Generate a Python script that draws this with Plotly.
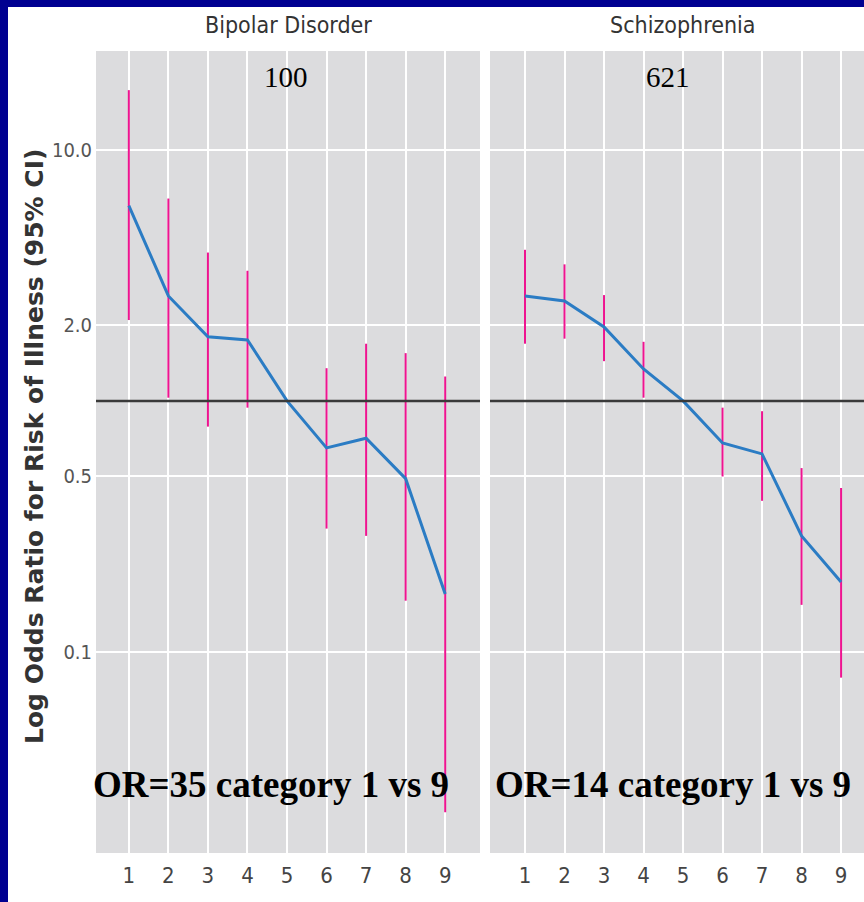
import plotly.graph_objects as go

# Odds ratios by category (1-9), reference category 5 = 1.0
categories = [1, 2, 3, 4, 5, 6, 7, 8, 9]

bipolar_or = [6.0, 2.62, 1.80, 1.75, 1.0, 0.65, 0.71, 0.49, 0.17]
bipolar_lo = [2.1, 1.03, 0.79, 0.94, 1.0, 0.31, 0.29, 0.16, 0.023]
bipolar_hi = [17.3, 6.4, 3.9, 3.3, 1.0, 1.35, 1.69, 1.55, 1.25]

schizo_or = [2.62, 2.50, 1.97, 1.34, 1.0, 0.68, 0.615, 0.29, 0.19]
schizo_lo = [1.69, 1.77, 1.44, 1.03, 1.0, 0.50, 0.40, 0.154, 0.079]
schizo_hi = [4.0, 3.5, 2.64, 1.72, 1.0, 0.94, 0.91, 0.54, 0.45]

panel_titles = ["Bipolar Disorder", "Schizophrenia"]
panel_counts = ["100", "621"]
panel_notes = ["OR=35 category 1 vs 9", "OR=14 category 1 vs 9"]

y_tickvals = [10.0, 2.0, 0.5, 0.1]
y_ticktext = ["10.0", "2.0", "0.5", "0.1"]
y_title = "Log Odds Ratio for Risk of Illness (95% CI)"

W, H = 864, 902


def px_x(p):
    return p / W


def px_y(p):
    return 1 - p / H


NAVY = "#000091"
PANEL = "#dcdcde"
LINE_BLUE = "#2b7cc4"
CI_PINK = "#ee1490"
COND = "DejaVu Sans Condensed, Liberation Sans Narrow, Arial Narrow, sans-serif"
SERIF = "Liberation Serif, Times New Roman, serif"

fig = go.Figure()

series = [
    (bipolar_or, bipolar_lo, bipolar_hi, "x", "y"),
    (schizo_or, schizo_lo, schizo_hi, "x2", "y2"),
]
for vals, lo, hi, xa, ya in series:
    up = [h - v for h, v in zip(hi, vals)]
    down = [v - l for v, l in zip(vals, lo)]
    fig.add_trace(go.Scatter(
        x=categories, y=vals, mode="lines", xaxis=xa, yaxis=ya,
        line=dict(color=LINE_BLUE, width=3),
        error_y=dict(type="data", symmetric=False, array=up, arrayminus=down,
                     color=CI_PINK, thickness=2, width=0),
        showlegend=False, hoverinfo="skip",
    ))

yrange = [-1.801, 1.394]
ydomain = [px_y(853), px_y(51)]

axis_common = dict(
    showgrid=True, gridcolor="white", gridwidth=1.5, zeroline=False,
    showline=False, ticks="", tickvals=categories, ticklabelstandoff=7,
    tickfont=dict(family=COND, size=22, color="#444"),
)
fig.update_layout(
    width=W, height=H,
    margin=dict(l=0, r=0, t=0, b=0),
    paper_bgcolor="white",
    plot_bgcolor=PANEL,
    xaxis=dict(domain=[px_x(96), px_x(480)], range=[0.17, 9.88], **axis_common),
    xaxis2=dict(domain=[px_x(490), 1.0], range=[0.114, 9.58], anchor="y2", **axis_common),
    yaxis=dict(domain=ydomain, type="log", range=yrange, tickvals=y_tickvals,
               ticktext=y_ticktext, showgrid=True, gridcolor="white", gridwidth=1.5,
               zeroline=False, showline=False, ticks="", ticklabelstandoff=3,
               tickfont=dict(family=COND, size=20, color="#555")),
    yaxis2=dict(domain=ydomain, type="log", range=yrange, tickvals=y_tickvals,
                showticklabels=False, anchor="x2", showgrid=True, gridcolor="white",
                gridwidth=1.5, zeroline=False, showline=False, ticks=""),
)

# Reference line at OR = 1 in each panel
for xd, yr in [("x domain", "y"), ("x2 domain", "y2")]:
    fig.add_shape(type="line", xref=xd, yref=yr, x0=0, x1=1, y0=1, y1=1,
                  line=dict(color="#3a3a3a", width=2.5), layer="above")

# Navy frame along the top and left edges
fig.add_shape(type="rect", xref="paper", yref="paper", x0=0, x1=1, y0=px_y(7), y1=1,
              fillcolor=NAVY, line_width=0, layer="above")
fig.add_shape(type="rect", xref="paper", yref="paper", x0=0, x1=px_x(8), y0=0, y1=1,
              fillcolor=NAVY, line_width=0, layer="above")


def label(text, xp, yp, font, angle=0):
    fig.add_annotation(text=text, xref="paper", yref="paper",
                       x=px_x(xp), y=px_y(yp), xanchor="center", yanchor="middle",
                       textangle=angle, showarrow=False, font=font)


centers = [288, 682]
count_centers = [286, 668]
note_centers = [271, 673]
for i in range(2):
    label(panel_titles[i], centers[i], 25, dict(family=COND, size=23, color="#333"))
    label(panel_counts[i], count_centers[i], 77, dict(family=SERIF, size=29, color="black"))
    label("<b>" + panel_notes[i] + "</b>", note_centers[i], 784,
          dict(family=SERIF, size=37, color="black"))

label("<b>" + y_title + "</b>", 34, 447, dict(family="DejaVu Sans", size=25, color="#333"),
      angle=-90)

fig.write_html("out.html")
